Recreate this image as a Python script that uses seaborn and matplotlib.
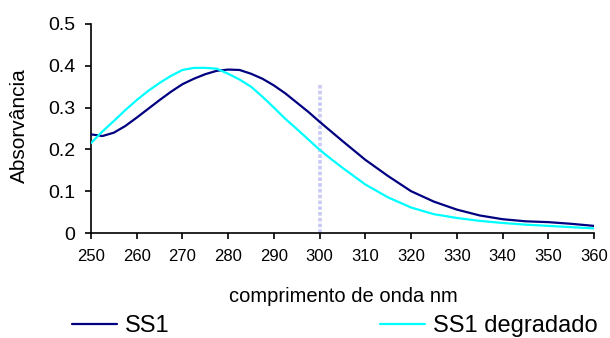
import numpy as np
import pandas as pd
import matplotlib
matplotlib.use("Agg")
import matplotlib.pyplot as plt
import seaborn as sns
from matplotlib.lines import Line2D

# ---- data ----
wavelength = [250, 252.5, 255, 257.5, 260, 262.5, 265, 267.5, 270, 272.5, 275,
              277.5, 280, 282.5, 285, 287.5, 290, 292.5, 295, 297.5, 300,
              302.5, 305, 310, 315, 320, 325, 330, 335, 340, 345, 350, 355, 360]
ss1 = [0.236, 0.232, 0.240, 0.256, 0.276, 0.297, 0.318, 0.338, 0.356, 0.369,
       0.380, 0.388, 0.391, 0.390, 0.381, 0.369, 0.353, 0.334, 0.312, 0.290,
       0.266, 0.243, 0.220, 0.175, 0.136, 0.100, 0.075, 0.056, 0.042, 0.033,
       0.028, 0.026, 0.022, 0.017]
ss1_degradado = [0.215, 0.243, 0.268, 0.294, 0.318, 0.340, 0.359, 0.376, 0.390,
                 0.395, 0.395, 0.393, 0.381, 0.367, 0.350, 0.326, 0.300, 0.273,
                 0.249, 0.224, 0.199, 0.177, 0.156, 0.116, 0.085, 0.061, 0.045,
                 0.036, 0.029, 0.024, 0.020, 0.017, 0.014, 0.011]
series_names = ["SS1", "SS1 degradado"]
x_ticks = list(range(250, 361, 10))
y_ticks = [0, 0.1, 0.2, 0.3, 0.4, 0.5]
y_tick_labels = ["0", "0.1", "0.2", "0.3", "0.4", "0.5"]
cursor_nm = 300
cursor_top = 0.355
x_label = "comprimento de onda nm"
y_label = "Absorvância"

df = pd.DataFrame({
    "wl": wavelength * 2,
    "abs": ss1 + ss1_degradado,
    "serie": [series_names[0]] * len(wavelength) + [series_names[1]] * len(wavelength),
})

sns.set_style("white")
plt.rcParams["font.family"] = ["Liberation Sans", "DejaVu Sans"]
plt.rcParams["text.color"] = "black"
plt.rcParams["xtick.color"] = "black"
plt.rcParams["ytick.color"] = "black"
plt.rcParams["axes.labelcolor"] = "black"

W, H = 610, 338
fig = plt.figure(figsize=(W / 100, H / 100), dpi=100)
ax = fig.add_axes([91 / W, 1 - 233 / H, (594 - 91) / W, (233 - 24) / H])

ax.vlines(cursor_nm, 0, cursor_top, colors="#c9c9f5", linewidth=2.6,
          linestyles=(0, (1, 0.6)), zorder=1)

sns.lineplot(data=df, x="wl", y="abs", hue="serie",
             palette={"SS1": "#000080", "SS1 degradado": "#00ffff"},
             linewidth=1.6, ax=ax, legend=False, zorder=3)

ax.set_xlim(250, 360)
ax.set_ylim(0, 0.5)
ax.set_xticks(x_ticks)
ax.set_yticks(y_ticks)
ax.set_yticklabels(y_tick_labels)
ax.set_xlabel(x_label, fontsize=14.5)
ax.set_ylabel(y_label, fontsize=15)

for s in ["top", "right"]:
    ax.spines[s].set_visible(False)
for s in ["left", "bottom"]:
    ax.spines[s].set_color("black")
    ax.spines[s].set_linewidth(1.2)

ax.tick_params(axis="both", direction="out", length=4.5, width=1.2, color="black",
               left=True, bottom=True, labelcolor="black")
ax.tick_params(axis="y", labelsize=14, pad=7)
ax.tick_params(axis="x", pad=7)
for lab in ax.get_xticklabels():
    lab.set_fontfamily(["Liberation Sans Narrow", "Liberation Sans"])
    lab.set_fontsize(12)

ax.xaxis.set_label_coords((343 - 91) / 503, (233 - 287) / 209)
ax.yaxis.set_label_coords((29 - 91) / 503, (233 - 125.5) / 209)

handles = [Line2D([], [], color="#000080", lw=1.6),
           Line2D([], [], color="#00ffff", lw=1.6)]
fig.legend(handles, series_names, loc="center left",
           bbox_to_anchor=(72 / W, 1 - 326 / H), ncol=2, frameon=False,
           fontsize=17, handlelength=1.9, handletextpad=0.35,
           columnspacing=8.9, borderpad=0, borderaxespad=0)

fig.savefig("out.png", dpi=100)
